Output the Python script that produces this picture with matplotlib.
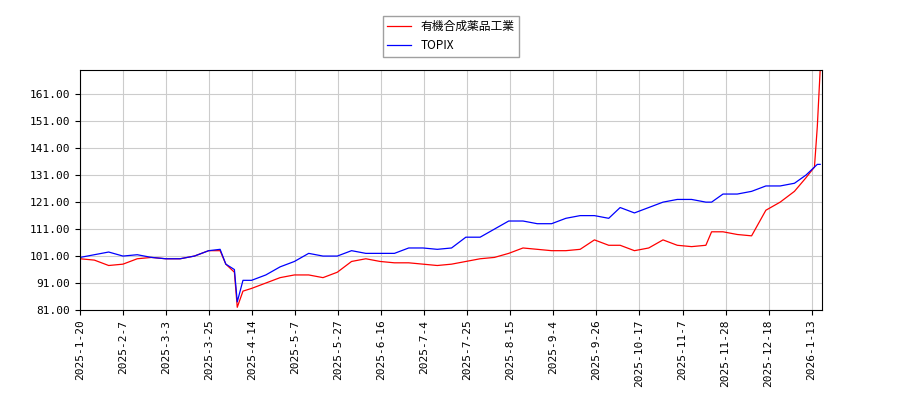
import matplotlib
matplotlib.use("Agg")
import matplotlib.pyplot as plt
import numpy as np

plt.rcParams['font.family'] = ['Noto Sans CJK JP', 'DejaVu Sans']

dates = ["2025-01-20", "2025-01-27", "2025-02-03", "2025-02-10", "2025-02-17", "2025-02-24",
         "2025-03-03", "2025-03-10", "2025-03-17", "2025-03-24", "2025-03-28", "2025-04-01",
         "2025-04-04", "2025-04-07", "2025-04-09", "2025-04-14", "2025-04-21", "2025-04-28",
         "2025-05-05", "2025-05-12", "2025-05-19", "2025-05-26", "2025-06-02", "2025-06-09",
         "2025-06-16", "2025-06-23", "2025-06-30", "2025-07-07", "2025-07-14", "2025-07-21",
         "2025-07-28", "2025-08-04", "2025-08-11", "2025-08-18", "2025-08-25", "2025-09-01",
         "2025-09-08", "2025-09-15", "2025-09-22", "2025-09-29", "2025-10-06", "2025-10-10",
         "2025-10-17", "2025-10-24", "2025-10-31", "2025-11-07", "2025-11-14", "2025-11-21",
         "2025-11-25", "2025-12-01", "2025-12-08", "2025-12-15", "2025-12-22", "2025-12-29",
         "2026-01-05", "2026-01-09", "2026-01-14", "2026-01-15", "2026-01-16"]
company = [100, 99.5, 97.5, 98, 100, 100.5, 100, 100, 101, 103, 103, 98,
           95, 82, 88, 89, 91, 93, 94, 94, 93, 95, 99, 100,
           99, 98.5, 98.5, 98, 97.5, 98, 99, 100, 100.5, 102, 104, 103.5,
           103, 103, 103.5, 107, 105, 105, 103, 104, 107, 105, 104.5, 105,
           110, 110, 109, 108.5, 118, 121, 125, 130, 134, 149, 170]
topix = [100.5, 101.5, 102.5, 101, 101.5, 100.5, 100, 100, 101, 103, 103.5, 98,
         96, 84, 92, 92, 94, 97, 99, 102, 101, 101, 103, 102,
         102, 102, 104, 104, 103.5, 104, 108, 108, 111, 114, 114, 113,
         113, 115, 116, 116, 115, 119, 117, 119, 121, 122, 122, 121,
         121, 124, 124, 125, 127, 127, 128, 131, 134, 135, 135]

tick_labels = ["2025-1-20", "2025-2-7", "2025-3-3", "2025-3-25", "2025-4-14", "2025-5-7",
               "2025-5-27", "2025-6-16", "2025-7-4", "2025-7-25", "2025-8-15", "2025-9-4",
               "2025-9-26", "2025-10-17", "2025-11-7", "2025-11-28", "2025-12-18", "2026-1-13"]

# 営業日ベースの横軸 (ticks every 14 trading days)
x = np.busday_count("2025-01-20", np.array(dates, dtype="datetime64[D]"))
ticks = [14 * i for i in range(len(tick_labels))]
scale = ticks[-1] / np.busday_count("2025-01-20", "2026-01-13")
x = x * scale

fig = plt.figure(figsize=(9, 4), dpi=100)
ax = fig.add_axes([0.089, 0.225, 0.824, 0.6])
ax.plot(x, company, color='red', lw=0.9, label='有機合成薬品工業')
ax.plot(x, topix, color='blue', lw=0.9, label='TOPIX')
ax.set_ylim(81, 170)
ax.set_yticks([81 + 10 * i for i in range(9)])
ax.yaxis.set_major_formatter(matplotlib.ticker.FormatStrFormatter('%.2f'))
ax.set_xlim(0, x[-1] + 0.5)
ax.set_xticks(ticks)
ax.set_xticklabels(tick_labels, rotation=90, family='DejaVu Sans Mono')
for lab in ax.get_yticklabels():
    lab.set_family('DejaVu Sans Mono')
ax.tick_params(labelsize=8)
ax.grid(color='#cccccc', lw=0.8)
ax.legend(loc='lower center', bbox_to_anchor=(0.5, 1.03), fontsize=8.5,
          fancybox=False, edgecolor='#888888')
fig.savefig('out.png')
